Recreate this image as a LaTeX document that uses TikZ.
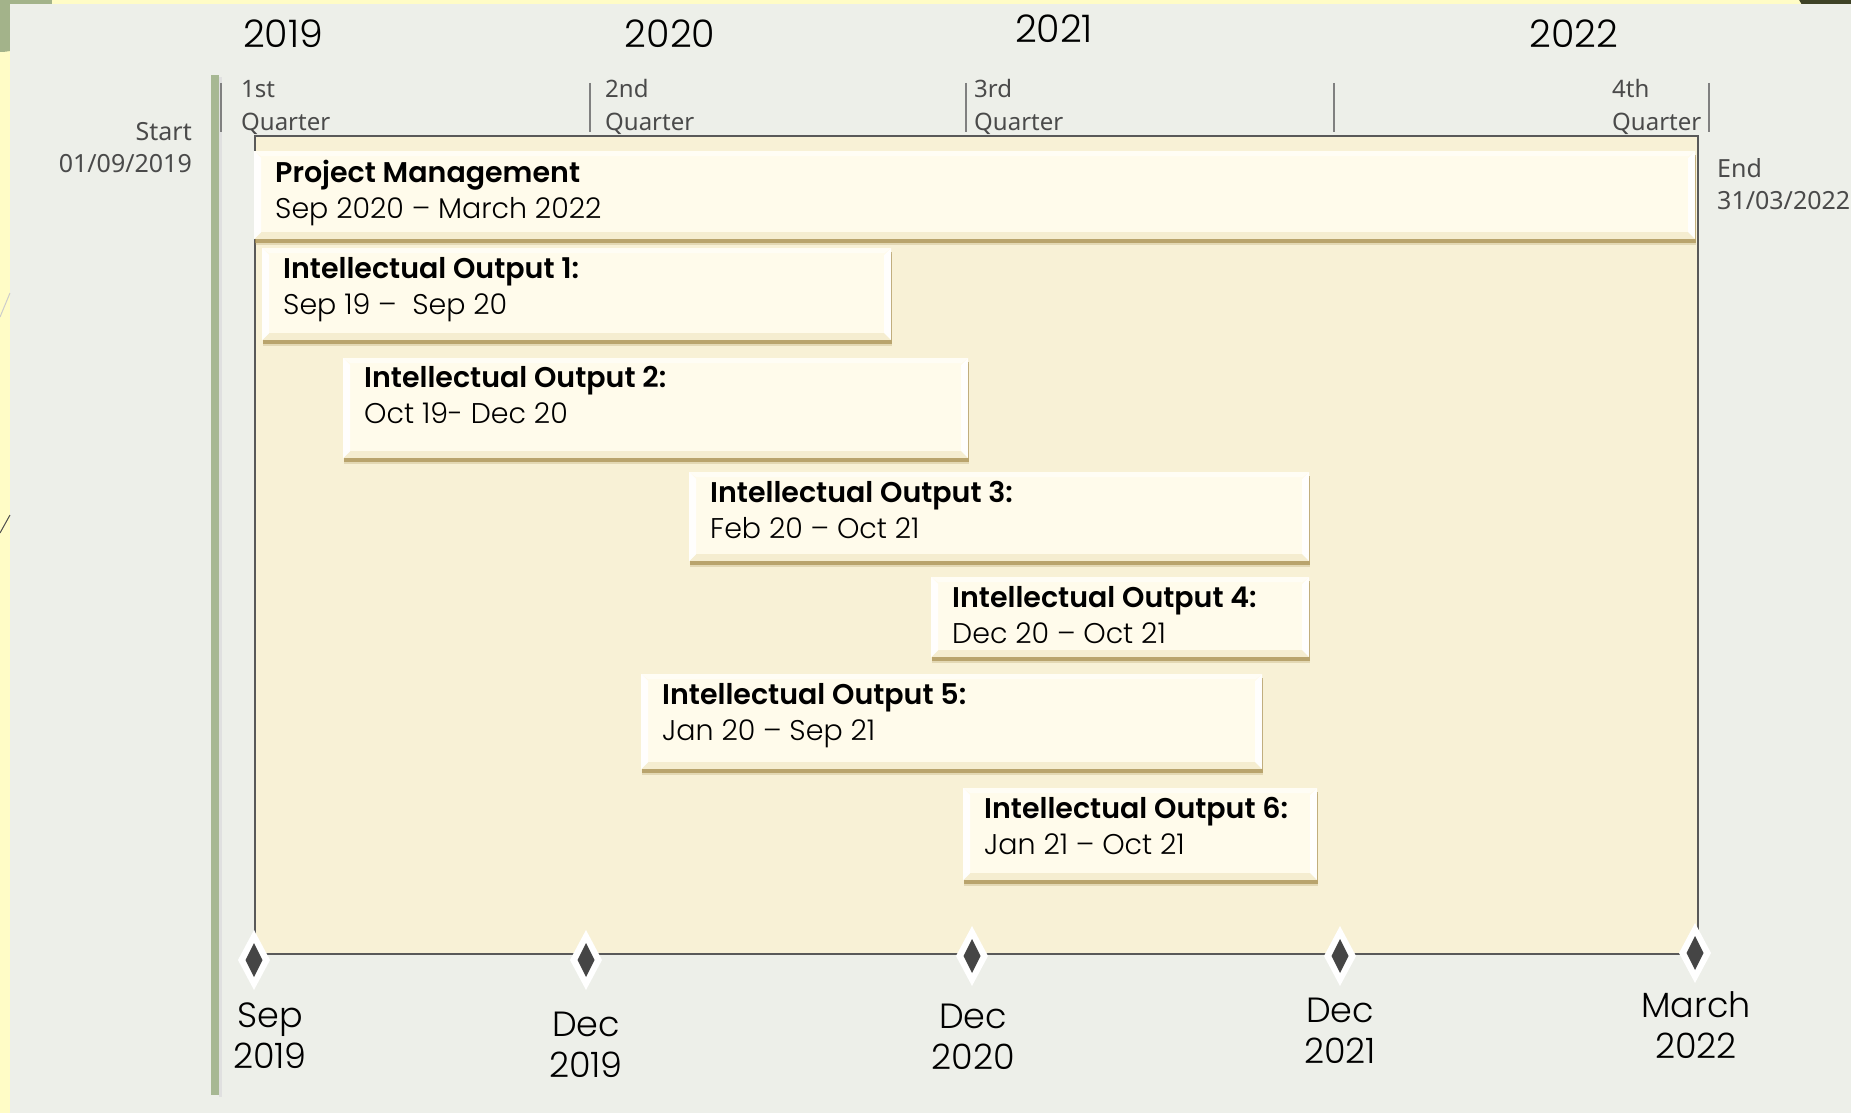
\documentclass[tikz,border=0pt]{standalone}
\usepackage{fontspec}
\setmainfont{Poppins}[UprightFont={* Light},BoldFont={* SemiBold}]
\newfontfamily\uifont{Noto Sans}
\usetikzlibrary{shadows}
\definecolor{panel}{HTML}{EDEFE9}
\definecolor{stripy}{HTML}{FFFCC6}
\definecolor{cornergreen}{HTML}{A3B38A}
\definecolor{cornerdark}{HTML}{3E4226}
\definecolor{bigfill}{HTML}{F8F1D6}
\definecolor{cardfill}{HTML}{FFFBEB}
\definecolor{cardshadow}{HTML}{A88F50}
\definecolor{cardbottom}{HTML}{F5EDD0}
\definecolor{graytext}{HTML}{4A4A4A}
\definecolor{barcol}{HTML}{A7B893}
\definecolor{tickcol}{HTML}{808080}
\definecolor{diamcol}{HTML}{454545}
\newcommand\stackL[2]{\begin{tabular}[t]{@{}l@{}}#1\\#2\end{tabular}}
\newcommand\stackR[2]{\begin{tabular}[t]{@{}r@{}}#1\\#2\end{tabular}}
\newcommand\stackC[2]{\begin{tabular}[t]{@{}c@{}}#1\\#2\end{tabular}}
\newcommand\milestoneat[3]{%
  \coordinate (#1) at (#2,#3);
  \fill[white] ([yshift=30pt]#1) -- ([xshift=16pt]#1) -- ([yshift=-30pt]#1) -- ([xshift=-16pt]#1) -- cycle;
  \fill[diamcol] ([yshift=17pt]#1) -- ([xshift=8.5pt]#1) -- ([yshift=-17pt]#1) -- ([xshift=-8.5pt]#1) -- cycle;}
\tikzset{
  yearlbl/.style={anchor=base, inner sep=0pt, font=\fontsize{38}{40}\selectfont},
  qlbl/.style={anchor=base west, inner sep=0pt, text=graytext, font=\uifont\fontsize{24}{33}\selectfont},
  selbl/.style={inner sep=0pt, text=graytext, font=\uifont\fontsize{25}{32}\selectfont},
  datelbl/.style={anchor=base, inner sep=0pt, font=\fontsize{35}{41}\selectfont},
  tickline/.style={draw=tickcol, line width=2pt},
  card/.style={rectangle, anchor=north west, inner sep=0pt, fill=cardfill,
    drop shadow={shadow xshift=1pt, shadow yshift=-6pt, fill=cardshadow, opacity=0.25},
    drop shadow={shadow xshift=1pt, shadow yshift=-3.5pt, fill=cardshadow, opacity=0.7},
    path picture={
      \fill[cardbottom] ([yshift=7pt]path picture bounding box.south west) rectangle (path picture bounding box.south east);
      \fill[white,opacity=0.95] (path picture bounding box.north west) -- ([xshift=7pt,yshift=-7pt]path picture bounding box.north west) -- ([xshift=7pt,yshift=7pt]path picture bounding box.south west) -- (path picture bounding box.south west) -- cycle;
      \fill[white,opacity=0.95] (path picture bounding box.north east) -- ([xshift=-7pt,yshift=-7pt]path picture bounding box.north east) -- ([xshift=-7pt,yshift=7pt]path picture bounding box.south east) -- (path picture bounding box.south east) -- cycle;
      \fill[white,opacity=0.5] (path picture bounding box.north west) -- ([xshift=7pt,yshift=-5pt]path picture bounding box.north west) -- ([xshift=-7pt,yshift=-5pt]path picture bounding box.north east) -- (path picture bounding box.north east) -- cycle;
    }},
  cardtxt/.style={anchor=base west, inner sep=0pt, font=\fontsize{28.5}{36}\selectfont}
}
\begin{document}
\begin{tikzpicture}[x=1pt,y=-1pt]
\useasboundingbox (0,0) rectangle (1851,1113);
% slide background
\fill[stripy] (0,0) rectangle (1851,1113);
\fill[cornergreen] (0,0) circle[radius=52];
\fill[cornerdark] (1851,-30) circle[radius=60];
\fill[panel] (10,4) rectangle (1851,1113);
\draw[color=gray!40, line width=1pt] (10,293) -- (0,317);
\draw[color=black!70, line width=1pt] (10,515) -- (0,533);
% green time bar
\fill[black!12] (219,77) rectangle (222,1097);
\fill[barcol] (211,75) rectangle (219,1095);
% quarter ticks
\draw[tickline] (221,83) -- (221,132);
\draw[tickline] (590,83) -- (590,132);
\draw[tickline] (966,83) -- (966,132);
\draw[tickline] (1334,83) -- (1334,132);
\draw[tickline] (1709,83) -- (1709,132);
% years
\node[yearlbl] (y2019) at (283,48) {2019};
\node[yearlbl] (y2020) at (670,48) {2020};
\node[yearlbl] (y2021) at (1054,43) {2021};
\node[yearlbl] (y2022) at (1574,48) {2022};
% quarters
\node[qlbl] (q1) at (241,98) {\stackL{1st}{Quarter}};
\node[qlbl] (q2) at (605,98) {\stackL{2nd}{Quarter}};
\node[qlbl] (q3) at (974,98) {\stackL{3rd}{Quarter}};
\node[qlbl] (q4) at (1612,98) {\stackL{4th}{Quarter}};
% start / end
\node[selbl, anchor=base east] (start) at (192,140) {\stackR{Start}{01/09/2019}};
\node[selbl, anchor=base west] (end) at (1717,177) {\stackL{End}{31/03/2022}};
% big frame
\node[rectangle, anchor=north west, inner sep=0pt, fill=bigfill, draw=black!65, line width=1.5pt,
  minimum width=1443pt, minimum height=818pt] (frame) at (254,135) {};
% cards
\node[card, minimum width=1441pt, minimum height=88pt] (pm) at (254,151) {};
\node[cardtxt] (pmt) at (275,182) {\stackL{\bfseries Project Management}{Sep 2020 – March 2022}};
\node[card, minimum width=629pt, minimum height=92pt] (io1) at (262,248) {};
\node[cardtxt] (io1t) at (283,278) {\stackL{\bfseries Intellectual Output 1:}{Sep 19 –\ \ Sep 20}};
\node[card, minimum width=625pt, minimum height=100pt] (io2) at (343,358) {};
\node[cardtxt] (io2t) at (364,387) {\stackL{\bfseries Intellectual Output 2:}{Oct 19- Dec 20}};
\node[card, minimum width=620pt, minimum height=89pt] (io3) at (689,472) {};
\node[cardtxt] (io3t) at (710,502) {\stackL{\bfseries Intellectual Output 3:}{Feb 20 – Oct 21}};
\node[card, minimum width=378pt, minimum height=80pt] (io4) at (931,577) {};
\node[cardtxt] (io4t) at (952,607) {\stackL{\bfseries Intellectual Output 4:}{Dec 20 – Oct 21}};
\node[card, minimum width=621pt, minimum height=95pt] (io5) at (641,674) {};
\node[cardtxt] (io5t) at (662,704) {\stackL{\bfseries Intellectual Output 5:}{Jan 20 – Sep 21}};
\node[card, minimum width=354pt, minimum height=92pt] (io6) at (963,788) {};
\node[cardtxt] (io6t) at (984,818) {\stackL{\bfseries Intellectual Output 6:}{Jan 21 – Oct 21}};
% milestones
\milestoneat{m1}{254}{960}
\milestoneat{m2}{586}{960}
\milestoneat{m3}{972}{956}
\milestoneat{m4}{1340}{956}
\milestoneat{m5}{1695}{953}
\node[datelbl] (d1) at (270,1027) {\stackC{Sep}{2019}};
\node[datelbl] (d2) at (586,1036) {\stackC{Dec}{2019}};
\node[datelbl] (d3) at (973,1028) {\stackC{Dec}{2020}};
\node[datelbl] (d4) at (1340,1022) {\stackC{Dec}{2021}};
\node[datelbl] (d5) at (1696,1017) {\stackC{March}{2022}};
\end{tikzpicture}
\end{document}
